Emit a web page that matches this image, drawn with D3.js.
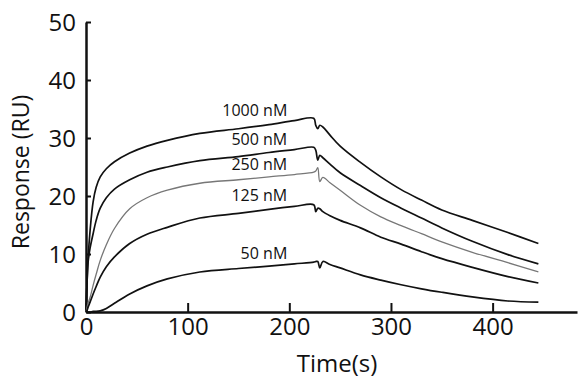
<!DOCTYPE html>
<html>
<head>
<meta charset="utf-8">
<script src="https://cdn.jsdelivr.net/npm/d3@7"></script>
<style>
    body { margin: 0; background: #fff; }
    svg text { font-family: "Open Sans", sans-serif; fill: #111; }
</style>
</head>
<body>
<div id="chart"></div>
<script>
// time points (s), shared by every sensorgram
const time = [0, 1, 2, 4, 7, 10, 14, 20, 28, 43, 60, 80, 112, 150, 180, 205,
    224, 226, 228, 230, 233, 240, 250, 270, 290, 310, 330, 350, 380, 415, 445];

// response (RU) for each analyte concentration
const resp1000 = [0, 5, 9, 14, 19, 21.5, 23.3, 24.7, 25.9, 27.4, 28.6, 29.6, 30.8, 31.6, 32.3, 33.0,
    33.4, 32.2, 31.6, 32.2, 31.9, 30.5, 28.6, 25.8, 23.3, 21.1, 19.3, 17.6, 15.8, 13.7, 11.8];
const resp500 = [0, 5, 8.5, 11, 13.5, 15.8, 17.9, 19.7, 21.2, 22.8, 24.1, 25.0, 26.1, 26.8, 27.5, 28.0,
    28.4, 27.9, 26.2, 27.0, 26.6, 25.5, 24.0, 21.8, 19.7, 17.9, 16.2, 14.5, 12.2, 9.9, 8.3];
const resp250 = [0, 0.8, 1.5, 2.5, 4.6, 6.5, 8.9, 11.6, 14.4, 17.8, 19.7, 21.0, 22.2, 22.8, 23.3, 23.7,
    24.1, 24.3, 24.9, 22.5, 23.2, 22.3, 21.0, 18.4, 16.4, 14.9, 13.5, 12.1, 10.3, 8.5, 6.9];
const resp125 = [0, 0.3, 0.8, 1.7, 3.1, 4.4, 6, 7.8, 9.5, 11.8, 13.4, 14.6, 16.2, 17.0, 17.7, 18.2,
    18.5, 17.3, 17.9, 17.8, 17.3, 16.6, 15.8, 14.5, 12.9, 11.7, 10.4, 9.2, 7.7, 6.1, 5.0];
const resp50 = [0, 0, 0, 0, 0.1, 0.1, 0.2, 0.6, 1.5, 3.1, 4.5, 5.7, 6.9, 7.5, 7.9, 8.3,
    8.6, 8.7, 8.7, 7.6, 8.7, 8.2, 7.6, 6.4, 5.5, 4.7, 4.0, 3.4, 2.6, 1.9, 1.7];

const seriesLabels = ["1000 nM", "500 nM", "250 nM", "125 nM", "50 nM"];
const seriesValues = [resp1000, resp500, resp250, resp125, resp50];

const xTicks = [0, 100, 200, 300, 400];
const yTicks = [0, 10, 20, 30, 40, 50];

/**
 * Draws an SPR sensorgram: one response curve per concentration
 */
var SensorgramVis = function(){
    this.width = 582;
    this.height = 386;
    this.LABEL_TIME = 198;   // time where the curve labels end

    this.svg = d3.select("#chart").append("svg")
        .attr("width", this.width)
        .attr("height", this.height);

    this.x = d3.scaleLinear().domain([0, 483]).range([86, 577]);
    this.y = d3.scaleLinear().domain([0, 50]).range([312, 22]);

    this.series = seriesLabels.map(function(name, i){
        return {
            name: name,
            points: time.map(function(t, j){ return {t: t, v: seriesValues[i][j]}; })
        };
    });

    this.createAxes = function(){
        let _this = this;

        // y axis, ticks pointing into the plot
        let yAxis = this.svg.append("g")
            .attr("transform", `translate(${_this.x(0)},0)`)
            .call(d3.axisLeft(this.y).tickValues(yTicks).tickSizeInner(-5).tickSizeOuter(0).tickPadding(10));
        yAxis.select(".domain").attr("stroke", "#111").attr("stroke-width", 2.5);
        yAxis.selectAll(".tick line").attr("stroke", "#111").attr("stroke-width", 2);
        yAxis.selectAll("text").style("font-size", "24px").attr("dy", "0.34em");

        // x axis
        let xAxis = this.svg.append("g")
            .attr("transform", `translate(0,${_this.y(0)})`)
            .call(d3.axisBottom(this.x).tickValues(xTicks).tickSizeInner(-9).tickSizeOuter(0).tickPadding(6));
        xAxis.select(".domain").attr("stroke", "#111").attr("stroke-width", 2.5);
        xAxis.selectAll(".tick line").attr("stroke", "#111").attr("stroke-width", 2);
        xAxis.selectAll("text").style("font-size", "24px");

        this.svg.append("text")
            .attr("x", 337)
            .attr("y", 372)
            .style("text-anchor", "middle")
            .style("font-size", "24px")
            .text("Time(s)");

        this.svg.append("text")
            .attr("transform", `translate(29,${(_this.y(0) + _this.y(50)) / 2 + 5}),rotate(-90)`)
            .style("text-anchor", "middle")
            .style("font-size", "23px")
            .text("Response (RU)");
    };

    this.createCurves = function(){
        let _this = this;
        let line = d3.line()
            .x(function(d){ return _this.x(d.t); })
            .y(function(d){ return _this.y(d.v); })
            .curve(d3.curveCatmullRom.alpha(0.5));

        let groups = this.svg.selectAll("g.curve")
            .data(this.series)
            .enter()
            .append("g")
            .attr("class", "curve");

        groups.append("path")
            .attr("d", function(d){ return line(d.points); })
            .attr("fill", "none")
            .attr("stroke", function(d){ return d.name === "250 nM" ? "#777" : "#111"; })
            .attr("stroke-width", function(d){ return d.name === "250 nM" ? 1.3 : 1.7; })
            .attr("stroke-linejoin", "round");

        // label each curve just above it, ending near t = 200
        groups.append("text")
            .attr("x", _this.x(_this.LABEL_TIME))
            .attr("y", function(d){
                let p = d.points.find(function(q){ return q.t === 205; });
                return _this.y(p.v) - 5;
            })
            .style("text-anchor", "end")
            .style("font-size", "16px")
            .text(function(d){ return d.name; });
    };

    this.createAxes();
    this.createCurves();
};

new SensorgramVis();
</script>
</body>
</html>
